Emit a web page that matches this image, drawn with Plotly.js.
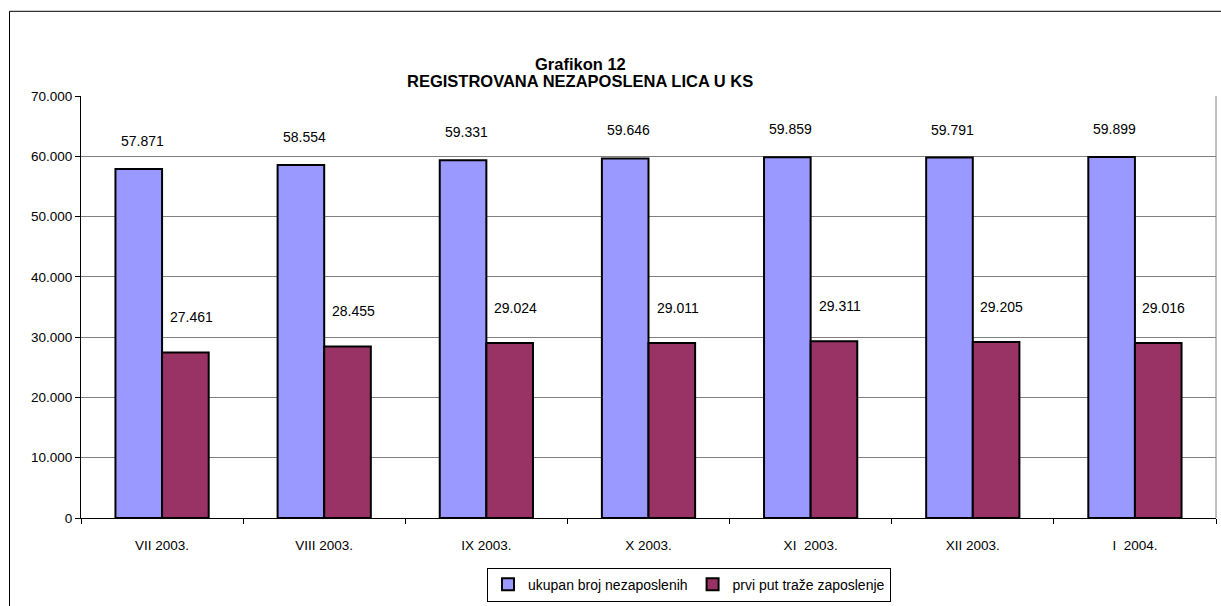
<!DOCTYPE html>
<html>
<head>
<meta charset="utf-8">
<script src="https://cdn.plot.ly/plotly-3.0.1.min.js"></script>
<style>
  html, body { margin: 0; padding: 0; background: #fff; }
  #chart { width: 1221px; height: 606px; }
</style>
</head>
<body>
<div id="chart"></div>
<script>
const months = ['VII 2003.', 'VIII 2003.', 'IX 2003.', 'X 2003.', 'XI\u00a0 2003.', 'XII 2003.', 'I\u00a0 2004.'];
const ukupno = [57871, 58554, 59331, 59646, 59859, 59791, 59899];
const prviPut = [27461, 28455, 29024, 29011, 29311, 29205, 29016];
const yTicks = [0, 10000, 20000, 30000, 40000, 50000, 60000, 70000];
const titleLines = ['Grafikon 12', 'REGISTROVANA NEZAPOSLENA LICA U KS'];

const fmt = (v) => String(v).replace(/\B(?=(\d{3})+(?!\d))/g, '.');

const blue = '#9999ff';
const maroon = '#993366';
const fontFamily = 'Liberation Sans, Arial, sans-serif';

const traces = [
  {
    type: 'bar', name: 'ukupan broj nezaposlenih', x: months, y: ukupno,
    marker: { color: blue, line: { color: '#000', width: 2 } },
    hoverinfo: 'none'
  },
  {
    type: 'bar', name: 'prvi put traže zaposlenje', x: months, y: prviPut,
    marker: { color: maroon, line: { color: '#000', width: 2 } },
    hoverinfo: 'none'
  }
];

const labelFont = { family: fontFamily, size: 14, color: '#000' };
const annotations = [];
months.forEach((m, i) => {
  annotations.push({ x: m, y: ukupno[i], xshift: -20, yshift: 18, yanchor: 'bottom', text: fmt(ukupno[i]), showarrow: false, font: labelFont });
  annotations.push({ x: m, y: prviPut[i], xshift: 29, yshift: 25, yanchor: 'bottom', text: fmt(prviPut[i]), showarrow: false, font: labelFont });
});
// two title lines, drawn separately to get Excel's tight line spacing
titleLines.forEach((t, i) => {
  annotations.push({
    xref: 'paper', yref: 'paper', x: (580 - 81) / 1135, y: (522 - (64 + i * 17)) / 426, xanchor: 'center', yanchor: 'middle',
    text: '<b>' + t + '</b>', showarrow: false,
    font: { family: fontFamily, size: 16.5, color: '#000' }
  });
});

const layout = {
  width: 1221, height: 606,
  margin: { l: 81, r: 5, t: 96, b: 84 },
  paper_bgcolor: '#fff', plot_bgcolor: '#fff',
  separators: ',.',
  font: { family: fontFamily, size: 13.5, color: '#000' },
  barmode: 'group', bargap: 0.425, bargroupgap: 0,
  showlegend: true,
  legend: {
    orientation: 'h', x: (689 - 81) / 1135, xanchor: 'center', y: (522 - 572) / 426, yanchor: 'top',
    bordercolor: '#000', borderwidth: 1, font: { size: 14 }, itemwidth: 30, tracegroupgap: 0
  },
  xaxis: {
    type: 'category', showline: true, linecolor: '#000', linewidth: 1,
    ticks: 'outside', tickson: 'boundaries', ticklen: 5, tickcolor: '#000',
    ticklabelstandoff: 15, showgrid: false, zeroline: false, fixedrange: true
  },
  yaxis: {
    range: [0, 70000], tickvals: yTicks, ticktext: yTicks.map(fmt),
    showline: true, linecolor: '#000', linewidth: 1,
    ticks: 'outside', ticklen: 5, tickcolor: '#000',
    showgrid: true, gridcolor: '#808080', gridwidth: 1, zeroline: false, fixedrange: true
  },
  annotations: annotations,
  shapes: [
    { type: 'line', xref: 'paper', yref: 'paper', x0: 1, x1: 1, y0: 0, y1: 1, line: { color: '#808080', width: 1 } },
    { type: 'rect', xref: 'paper', yref: 'paper', x0: (9.5 - 81) / 1135, x1: 1.1, y0: -0.3, y1: (522 - 10.5) / 426,
      line: { color: '#000', width: 1 }, fillcolor: 'rgba(0,0,0,0)', layer: 'below' }
  ]
};

Plotly.newPlot('chart', traces, layout, { displayModeBar: false, staticPlot: true });
</script>
</body>
</html>
